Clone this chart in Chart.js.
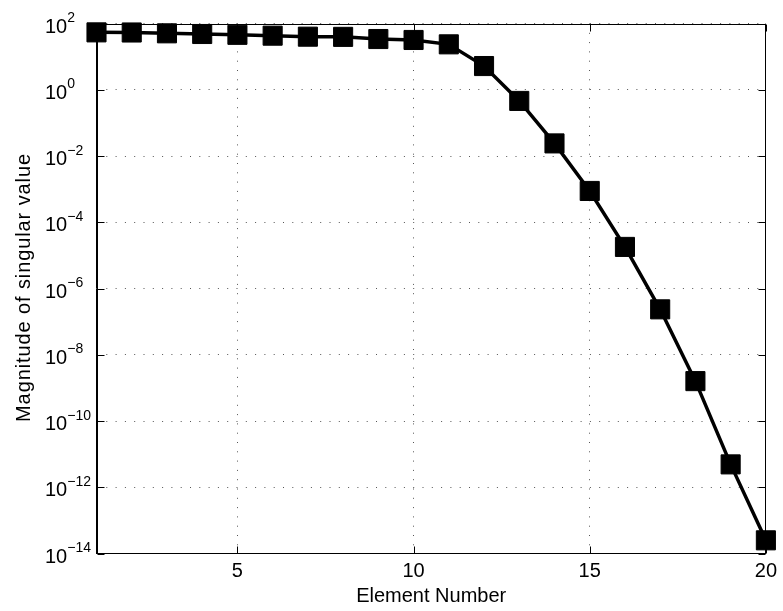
<!DOCTYPE html>
<html>
<head>
<meta charset="utf-8">
<script src="https://cdn.jsdelivr.net/npm/chart.js@4/dist/chart.umd.min.js"></script>
<style>
html,body{margin:0;padding:0;background:#fff;}
canvas{display:block;}
</style>
</head>
<body>
<canvas id="c" width="783" height="611"></canvas>
<script>
const elementNumbers = [1,2,3,4,5,6,7,8,9,10,11,12,13,14,15,16,17,18,19,20];
const singularValues = [54, 53.5, 50.5, 48.2, 45.5, 42.9, 40, 39.5, 34, 31.8, 23.5, 5.2, 0.46, 0.024, 8.8e-4, 1.8e-5, 2.35e-7, 1.6e-9, 4.9e-12, 2.5e-14];
const xTickValues = [5, 10, 15, 20];
const yTickExponents = [2, 0, -2, -4, -6, -8, -10, -12, -14];
const xTitle = 'Element Number';
const yTitle = 'Magnitude of singular value';

const FONT = "'Liberation Sans', Arial, Helvetica, sans-serif";

const boxPlugin = {
  id: 'box',
  beforeDatasetsDraw(chart) {
    const {ctx, chartArea: a, scales} = chart;
    ctx.save();
    ctx.strokeStyle = '#000';
    ctx.lineWidth = 1;
    const L = Math.round(a.left) + 0.5, R = Math.round(a.right) - 0.5;
    const T = Math.round(a.top) + 0.5, B = Math.round(a.bottom) - 0.5;
    ctx.strokeRect(L, T, R - L, B - T);
    const tl = 7;
    ctx.beginPath();
    xTickValues.forEach(v => {
      const x = Math.round(scales.x.getPixelForValue(v)) + 0.5;
      ctx.moveTo(x, B); ctx.lineTo(x, B - tl);
      ctx.moveTo(x, T); ctx.lineTo(x, T + tl);
    });
    yTickExponents.forEach(e => {
      const y = Math.round(scales.y.getPixelForValue(Math.pow(10, e))) + 0.5;
      ctx.moveTo(L, y); ctx.lineTo(L + tl, y);
      ctx.moveTo(R, y); ctx.lineTo(R - tl, y);
    });
    ctx.stroke();
    ctx.restore();
  },
  afterDraw(chart) {
    const {ctx, scales, chartArea: a} = chart;
    ctx.save();
    ctx.fillStyle = '#000';
    ctx.textAlign = 'left';
    ctx.textBaseline = 'alphabetic';
    yTickExponents.forEach(e => {
      const y = scales.y.getPixelForValue(Math.pow(10, e));
      ctx.font = '20px ' + FONT;
      ctx.fillText('10', 45, y + 9);
      const w = ctx.measureText('10').width;
      ctx.font = '14px ' + FONT;
      const s = e < 0 ? '\u2212' + Math.abs(e) : String(e);
      ctx.fillText(s, 45 + w, y - 1.5);
    });
    // y axis title (rotated)
    ctx.save();
    ctx.translate(30, (a.top + a.bottom) / 2 - 1);
    ctx.rotate(-Math.PI / 2);
    ctx.font = '20px ' + FONT;
    try { ctx.letterSpacing = '0.9px'; } catch (err) {}
    ctx.textAlign = 'center';
    ctx.textBaseline = 'alphabetic';
    ctx.fillText(yTitle, 0, 0);
    ctx.restore();
    ctx.restore();
  }
};

new Chart(document.getElementById('c'), {
  type: 'line',
  data: {
    datasets: [{
      data: elementNumbers.map((x, i) => ({x: x, y: singularValues[i]})),
      borderColor: '#000',
      backgroundColor: '#000',
      borderWidth: 3.5,
      pointStyle: 'rect',
      pointRadius: 13.5,
      pointBorderWidth: 1,
      pointBackgroundColor: '#000',
      pointBorderColor: '#000',
      tension: 0,
      clip: false
    }]
  },
  options: {
    responsive: false,
    animation: false,
    devicePixelRatio: 1,
    layout: {padding: {top: 23.5, right: 15, left: 0, bottom: 0}},
    plugins: {legend: {display: false}, tooltip: {enabled: false}},
    scales: {
      x: {
        type: 'linear',
        min: 1, max: 20,
        afterBuildTicks: s => { s.ticks = xTickValues.map(v => ({value: v})); },
        afterFit: s => { s.height = 57.5; },
        ticks: {color: '#000', font: {family: FONT, size: 20}, padding: 6, maxRotation: 0, autoSkip: false, callback: v => String(v)},
        grid: {color: '#555', lineWidth: 1, drawTicks: false},
        border: {display: true, color: '#000', width: 1, dash: [1, 8.3]},
        title: {display: true, text: xTitle, color: '#000', font: {family: FONT, size: 20}, padding: {top: 0, bottom: 3}}
      },
      y: {
        type: 'logarithmic',
        min: 1e-14, max: 1e2,
        afterBuildTicks: s => { s.ticks = yTickExponents.map(e => ({value: Math.pow(10, e)})); },
        afterFit: s => { s.width = 96.5; },
        ticks: {display: false},
        grid: {color: '#555', lineWidth: 1, drawTicks: false},
        border: {display: true, color: '#000', width: 1, dash: [1, 8.3]},
        title: {display: false, text: yTitle}
      }
    }
  },
  plugins: [boxPlugin]
});
</script>
</body>
</html>
